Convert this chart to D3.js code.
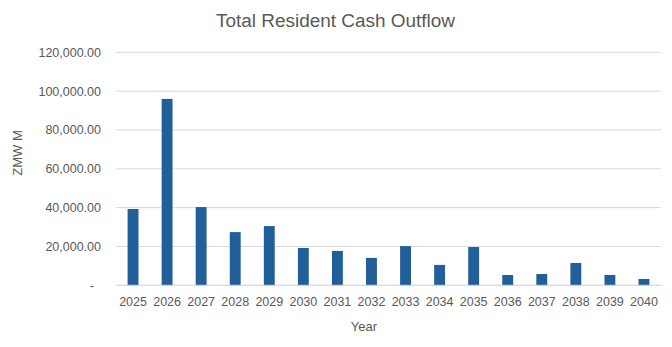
<!DOCTYPE html>
<html>
<head>
<meta charset="utf-8">
<script src="https://cdn.jsdelivr.net/npm/d3@7"></script>
<style>
  body { margin: 0; background: #fff; }
  svg { display: block; }
  text { font-family: "Liberation Sans", Arial, sans-serif; fill: #595959; }
</style>
</head>
<body>
<svg id="chart" width="672" height="347"></svg>
<script>
const years = ["2025","2026","2027","2028","2029","2030","2031","2032","2033","2034","2035","2036","2037","2038","2039","2040"];
const outflow = [39300, 96000, 40300, 27400, 30500, 19200, 17700, 14100, 20200, 10500, 19700, 5300, 5800, 11500, 5300, 3250];
const yTicks = [0, 20000, 40000, 60000, 80000, 100000, 120000];
const title = "Total Resident Cash Outflow";
const xTitle = "Year";
const yTitle = "ZMW M";

(function () {
const svg = d3.select("#chart");
const plotLeft = 116, plotRight = 661, plotTop = 52.3, plotBottom = 285.3;

const x = d3.scaleBand().domain(years).range([plotLeft, plotRight]).paddingInner(0.68).paddingOuter(0.34);
const y = d3.scaleLinear().domain([0, 120000]).range([plotBottom, plotTop]);

const fmt = v => v === 0 ? "-" : d3.format(",.2f")(v);

// gridlines
svg.append("g").selectAll("line").data(yTicks).join("line")
  .attr("x1", plotLeft).attr("x2", plotRight)
  .attr("y1", d => y(d)).attr("y2", d => y(d))
  .attr("stroke", "#d9d9d9").attr("stroke-width", 1);

// y axis labels
const yAxis = d3.axisLeft(y).tickValues(yTicks).tickFormat(fmt).tickSize(0).tickPadding(0);
const ya = svg.append("g").attr("transform", `translate(101,0)`).call(yAxis);
ya.select(".domain").remove();
ya.selectAll("text").attr("font-size", "12.5px").attr("fill", "#595959")
  .style("font-family", "'Liberation Sans', Arial, sans-serif")
  .attr("dx", d => d === 0 ? -7 : 0);

// bars
svg.append("g").selectAll("rect").data(years).join("rect")
  .attr("x", d => x(d))
  .attr("width", x.bandwidth())
  .attr("y", (d, i) => y(outflow[i]))
  .attr("height", (d, i) => y(0) - y(outflow[i]))
  .attr("fill", "#215f9a");

// x axis labels
const xAxis = d3.axisBottom(x).tickSize(0).tickPadding(0);
const xa = svg.append("g").attr("transform", `translate(0,${plotBottom + 12})`).call(xAxis);
xa.select(".domain").remove();
xa.selectAll("text").attr("font-size", "12.5px").attr("fill", "#595959")
  .style("font-family", "'Liberation Sans', Arial, sans-serif");

// baseline
svg.append("line").attr("x1", plotLeft).attr("x2", plotRight).attr("y1", y(0)).attr("y2", y(0))
  .attr("stroke", "#d9d9d9").attr("stroke-width", 1);

// title
svg.append("text").attr("x", 335.5).attr("y", 27.3).attr("text-anchor", "middle")
  .attr("font-size", "18px").attr("textLength", 239).attr("lengthAdjust", "spacingAndGlyphs")
  .text(title);

// axis titles
svg.append("text").attr("x", 364).attr("y", 331).attr("text-anchor", "middle")
  .attr("font-size", "13px").text(xTitle);
svg.append("text").attr("transform", "translate(22,153) rotate(-90)").attr("text-anchor", "middle")
  .attr("font-size", "13px").text(yTitle);
})();
</script>
</body>
</html>
